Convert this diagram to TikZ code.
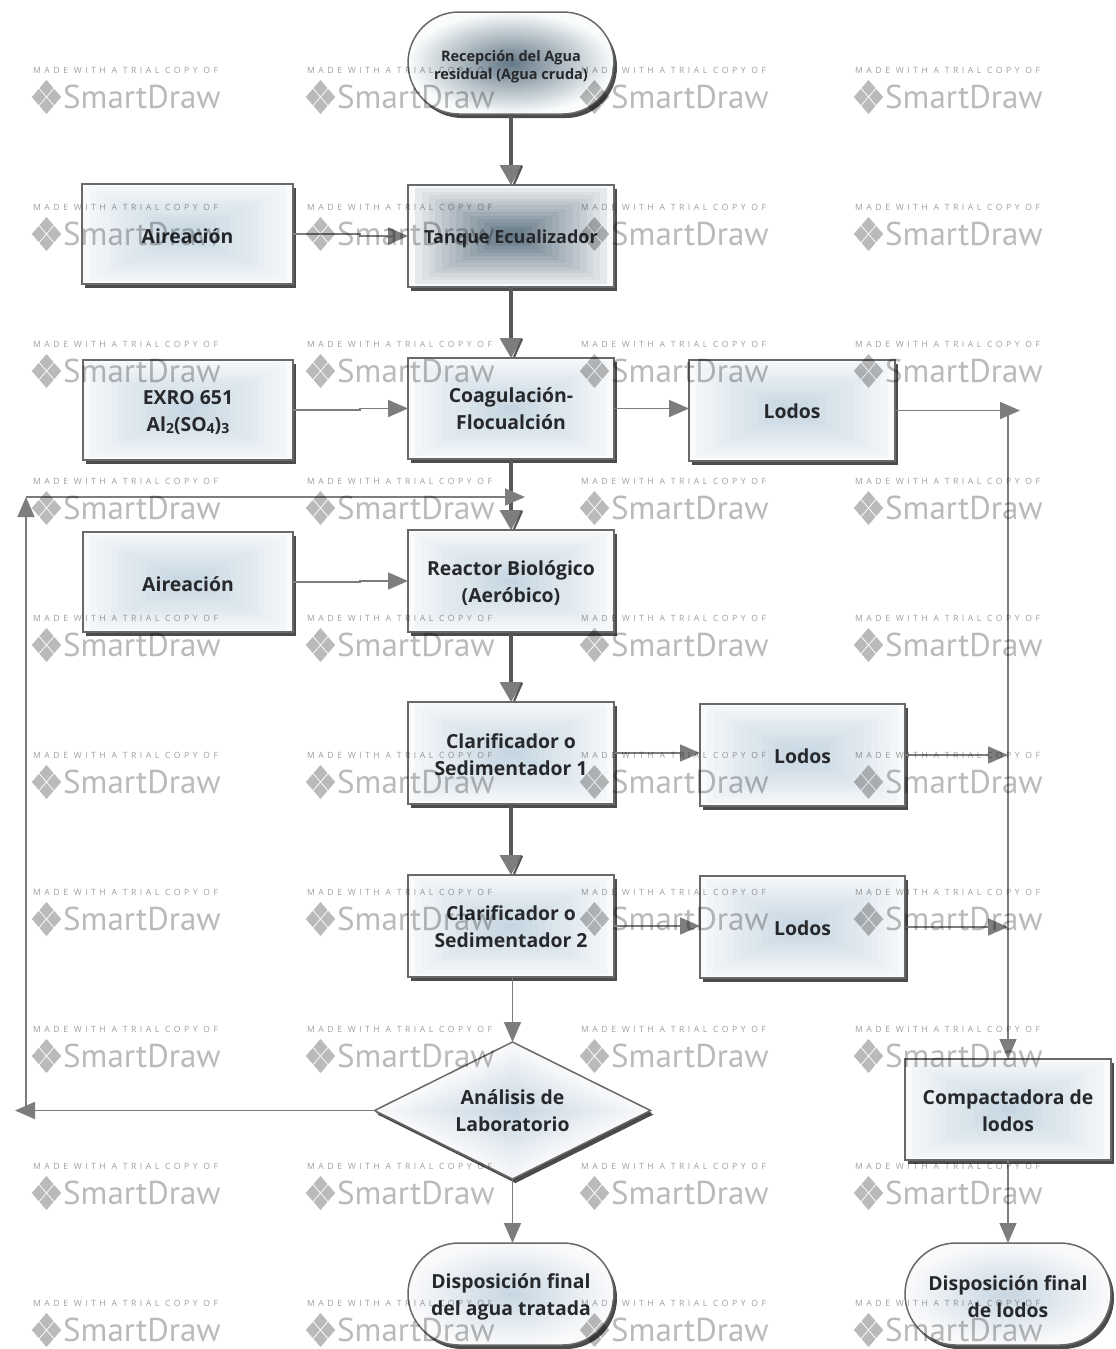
\documentclass[tikz,border=0pt]{standalone}
\usepackage{fontspec}
\setmainfont{Open Sans}
\newfontfamily\wmtext[LetterSpace=41]{Open Sans}
\newfontfamily\wmlogo{PT Sans}
\usetikzlibrary{arrows.meta,calc,shapes.misc,shapes.geometric,shadows}
\pgfdeclarefunctionalshading{roundlight}{\pgfpoint{0bp}{0bp}}{\pgfpoint{100bp}{100bp}}{}{
 50 sub abs 25 div dup mul exch 50 sub abs 25 div dup mul add sqrt dup 1 sub abs neg add 1 add 2 div
 dup .20 mul .78 add exch dup .14 mul .84 add exch .10 mul .885 add}
\pgfdeclarefunctionalshading{rounddark}{\pgfpoint{0bp}{0bp}}{\pgfpoint{100bp}{100bp}}{}{
 50 sub abs 25 div dup mul exch 50 sub abs 25 div dup mul add sqrt dup 1 sub abs neg add 1 add 2 div
 dup .59 mul .39 add exch dup .52 mul .47 add exch .46 mul .53 add}
\pgfdeclarefunctionalshading{diamondlight}{\pgfpoint{0bp}{0bp}}{\pgfpoint{100bp}{100bp}}{}{
 50 sub abs 25 div exch 50 sub abs 25 div add dup 1 sub abs neg add 1 add 2 div
 dup .20 mul .78 add exch dup .14 mul .84 add exch .10 mul .885 add}
\definecolor{ink}{RGB}{38,40,44}
\definecolor{edge}{RGB}{105,105,105}
\definecolor{conn}{RGB}{125,125,125}
\definecolor{thick}{RGB}{88,88,88}
\definecolor{paper}{RGB}{249,250,251}
\definecolor{tintL}{RGB}{198,214,225}
\definecolor{tintD}{RGB}{98,118,133}
\tikzset{
 x=1pt,y=-1pt,
 shapebase/.style={draw=edge,line width=1.5pt,inner sep=0pt,outer sep=0pt,text=ink,align=center,
   font=\fontsize{19.4}{27}\selectfont\bfseries,
   drop shadow={shadow xshift=3pt,shadow yshift=-4pt,fill={rgb,255:red,45;green,45;blue,45},opacity=.85}},
 bands/.style={fill=paper,path picture={
   \foreach \i in {14,13,...,1}{
     \pgfmathsetmacro{\tt}{\i/15}
     \pgfmathsetmacro{\pp}{100*(1-\tt)+6}
     \fill[#1!\pp!paper]
       ($(path picture bounding box.center)!\tt!(path picture bounding box.north east)$) rectangle
       ($(path picture bounding box.center)!\tt!(path picture bounding box.south west)$);
   }}},
 boxL/.style={shapebase,bands=tintL,rectangle,minimum width=206pt,minimum height=102pt},
 boxD/.style={shapebase,bands=tintD,rectangle,minimum width=206pt,minimum height=102pt,
   font=\fontsize{18}{27}\selectfont\bfseries},
 endL/.style={shapebase,shade,shading=roundlight,rounded rectangle,minimum width=206pt,minimum height=102pt},
 endD/.style={shapebase,shade,shading=rounddark,rounded rectangle,minimum width=206pt,minimum height=102pt,
   font=\fontsize{14.5}{18}\selectfont\bfseries},
 decide/.style={shapebase,shade,shading=diamondlight,diamond,aspect=2,minimum width=276pt,minimum height=137pt,
   drop shadow={shadow xshift=1pt,shadow yshift=-2pt,fill={rgb,255:red,70;green,70;blue,70},opacity=.7}},
 thin flow/.style={draw=conn,line width=1.7pt,-{Triangle[length=20pt,width=17pt,color=conn]}},
 heavy flow/.style={draw=thick,line width=3.6pt,-{Triangle[length=20pt,width=22pt,color=conn]}},
 sliver/.style={draw=thick,line width=2.2pt},
 wmcap/.style={inner sep=0pt,anchor=west,text=black,text opacity=.38,font=\fontsize{8.6}{10}\wmtext},
 wmname/.style={inner sep=0pt,anchor=west,text=black,text opacity=.27,font=\fontsize{33}{36}\wmlogo},
 wmgem/.style={fill=black,fill opacity=.27,draw=none},
}
\newcommand{\lowd}[1]{\raisebox{-.12em}{\fontsize{14}{14}\selectfont #1}}
\newcommand{\up}[1]{\rule{0pt}{#1}}
\begin{document}
\begin{tikzpicture}
\useasboundingbox[fill=white] (0,0) rectangle (1116,1349);
% shapes
\node[endD] (start) at (511,63) {\up{19pt}Recepción del Agua\\residual (Agua cruda)};
\node[boxL,minimum width=211pt,minimum height=100pt] (air1) at (187.5,234) {\up{19pt}Aireación};
\node[boxD] (tank) at (511,236) {\up{19pt}Tanque Ecualizador};
\node[boxL,minimum width=210pt,minimum height=100pt] (exro) at (188,410) {\up{19pt}EXRO 651\\Al\lowd{2}(SO\lowd{4})\lowd{3}};
\node[boxL,minimum height=101pt] (coag) at (511,408.5) {Coagulación-\\Flocualción};
\node[boxL,minimum height=101pt] (lod1) at (792,410.5) {\up{17pt}Lodos};
\node[boxL] (reac) at (511,581) {\up{19pt}Reactor Biológico\\(Aeróbico)};
\node[boxL,minimum width=210pt,minimum height=100pt] (air2) at (188,582) {\up{19pt}Aireación};
\node[boxL] (cla1) at (511,753) {\up{19pt}Clarificador o\\Sedimentador 1};
\node[boxL,minimum width=205pt] (lod2) at (802.5,755) {\up{17pt}Lodos};
\node[boxL] (cla2) at (511,926) {\up{17pt}Clarificador o\\Sedimentador 2};
\node[boxL,minimum width=205pt] (lod3) at (802.5,927) {\up{17pt}Lodos};
\node[decide] (lab) at (512.5,1110.5) {Análisis de\\Laboratorio};
\node[boxL,minimum height=101pt] (comp) at (1008,1109.5) {\up{17pt}Compactadora de\\lodos};
\node[endL] (dwat) at (511,1294) {\up{20pt}Disposición final\\del agua tratada};
\node[endL] (dlod) at (1008,1294) {\up{20pt}Disposición final\\de lodos};
% free ends
\coordinate (lodEnd) at (1020,410.5);
\coordinate (lodTop) at (1008,410.5);
\coordinate (lod2End) at (1008,755);
\coordinate (lod3End) at (1008,927);
\coordinate (backEnd) at (15,1110.5);
\coordinate (backTurn) at (26,1110.5);
\coordinate (backUp) at (26,497);
\coordinate (backTip) at (525,497);
% connectors
\draw[heavy flow] (start.south) -- (tank.north);
\draw[heavy flow] (tank.south) -- (coag.north);
\draw[heavy flow] (coag.south) -- (reac.north);
\draw[heavy flow] (reac.south) -- (cla1.north);
\draw[heavy flow] (cla1.south) -- (cla2.north);
\foreach \t in {tank,coag,reac,cla1,cla2}
  \draw[sliver] ($(\t.north)+(11,-19)$) -- ($(\t.north)+(3,-1)$);
\draw[thin flow] (air1.east) -| ($(air1.east)!.58!(tank.west)$) |- (tank.west);
\draw[thin flow] (exro.east) -| ($(exro.east)!.58!(coag.west)$) |- (coag.west);
\draw[thin flow] (air2.east) -| ($(air2.east)!.58!(reac.west)$) |- (reac.west);
\draw[thin flow] (coag.east) -- (lod1.west |- coag.east);
\draw[thin flow] (lod1.east) -- (lodEnd);
\draw[thin flow] (lodTop) -- (comp.north);
\draw[thin flow] (cla1.east) -- (lod2.west |- cla1.east);
\draw[thin flow] (lod2.east) -- (lod2End);
\draw[thin flow] (cla2.east) -- (lod3.west |- cla2.east);
\draw[thin flow] (lod3.east) -- (lod3End);
\draw[thin flow] (lab.north |- cla2.south) -- (lab.north);
\draw[thin flow] (lab.south) -- (lab.south |- dwat.north);
\draw[thin flow] (comp.south) -- (dlod.north);
\draw[thin flow] (lab.west) -- (backEnd);
\draw[thin flow] (backTurn) -- (backUp);
\draw[thin flow] (backUp) -- (backTip);
% trial-copy marks printed across the page
\foreach \c in {0,1,2,3}
 \foreach \r in {0,...,9}{
  \pgfmathsetmacro{\wx}{33+274*\c}
  \pgfmathsetmacro{\wy}{70+137*\r}
  \node[wmcap] (cap-\c-\r) at (\wx,\wy) {MADE WITH A TRIAL COPY OF};
  \node[wmname] (name-\c-\r) at (\wx+30,\wy+27) {SmartDraw};
  \begin{scope}[shift={(\wx+13.5,\wy+27)}]
   \fill[wmgem] (0,-17) -- (7,-8.9) -- (0,-0.8) -- (-7,-8.9) -- cycle;
   \fill[wmgem] (0,0.8) -- (7,8.9) -- (0,17) -- (-7,8.9) -- cycle;
   \fill[wmgem] (-7.7,-8.1) -- (-0.7,0) -- (-7.7,8.1) -- (-14.7,0) -- cycle;
   \fill[wmgem] (7.7,-8.1) -- (14.7,0) -- (7.7,8.1) -- (0.7,0) -- cycle;
  \end{scope}
 }
\end{tikzpicture}
\end{document}
